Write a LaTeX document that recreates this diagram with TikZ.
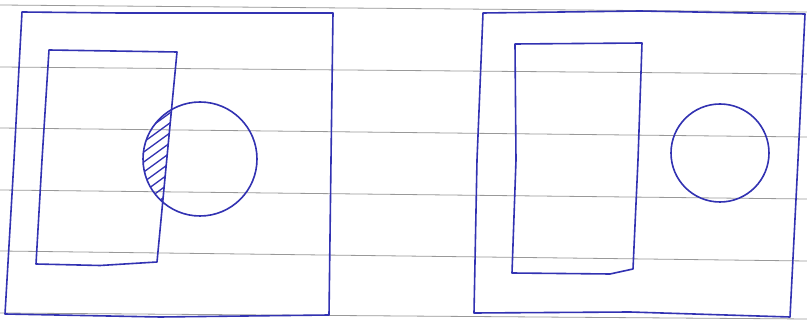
\documentclass[tikz,border=0pt]{standalone}
\usetikzlibrary{calc}
\begin{document}
\begin{tikzpicture}[x=1pt,y=-1pt,
  paperline/.style={draw=black!40,line width=0.8pt},
  ink/.style={draw=inkblue,line width=1.6pt,line join=round,line cap=round},
  hatch/.style={draw=inkblue,line width=1.3pt,line cap=round}]
\definecolor{inkblue}{RGB}{50,50,178}
\useasboundingbox[fill=white] (0,0) rectangle (807,320);
% ruled paper lines
\draw[paperline] (0,5) -- (807,12);
\draw[paperline] (0,67) -- (807,74);
\draw[paperline] (0,128) -- (807,137);
\draw[paperline] (0,190) -- (807,199);
\draw[paperline] (0,251) -- (807,261);
\draw[paperline] (0,313) -- (807,319);
% ---- left panel ----
\coordinate (LOtl) at (22,12);
\coordinate (LOtr) at (333,13);
\coordinate (LObr) at (329,315);
\coordinate (LObl) at (5,314);
\draw[ink] (LOtl) -- (120,13) -- (LOtr) -- (331,160) -- (LObr) -- (160,317) -- (LObl) -- (14,160) -- cycle;
\coordinate (LItl) at (49,50);
\coordinate (LItr) at (177,52);
\coordinate (LIbr) at (157,262);
\coordinate (LIbl) at (36,264);
\draw[ink] (LItl) -- (LItr) -- (LIbr) -- (100,265.5) -- (LIbl) -- (42,160) -- cycle;
\coordinate (LC) at (200,159);
\draw[ink] (LC) circle[radius=57];
% hatched overlap
\begin{scope}
  \clip (LC) circle[radius=57];
  \clip ($(LItr)!-1!(LIbr)$) -- ($(LIbr)!-1!(LItr)$) -- (0,472) -- (0,-158) -- cycle;
  \foreach \c in {112,122,...,242}
    \draw[hatch] (130,\c) -- (185,\c-40);
\end{scope}
% ---- right panel ----
\coordinate (ROtl) at (483,13);
\coordinate (ROtr) at (805,14);
\coordinate (RObr) at (790,317);
\coordinate (RObl) at (474,313);
\draw[ink] (ROtl) -- (640,11) -- (ROtr) -- (798,160) -- (RObr) -- (630,312) -- (RObl) -- (477,160) -- cycle;
\coordinate (RItl) at (515,44);
\coordinate (RItr) at (642,43);
\coordinate (RIbr) at (633,269);
\coordinate (RIbl) at (512,273);
\draw[ink] (RItl) -- (RItr) -- (638,160) -- (RIbr) -- (610,274) -- (RIbl) -- (516,160) -- cycle;
\coordinate (RC) at (720,153);
\draw[ink] (RC) circle[radius=49];
\end{tikzpicture}
\end{document}
